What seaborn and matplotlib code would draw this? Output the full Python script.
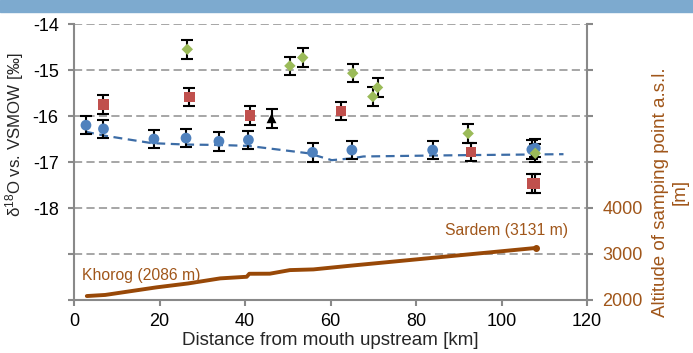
import numpy as np
import pandas as pd
import matplotlib
matplotlib.use("Agg")
import matplotlib.pyplot as plt
import seaborn as sns
from matplotlib.patches import Rectangle

# ---------------- data ----------------
# blue circles, with dashed trend
blue_km = [2.8, 6.9, 18.7, 26.2, 33.9, 40.8, 55.8, 65.0, 83.9, 107.1, 107.9]
blue_d18o = [-16.20, -16.28, -16.50, -16.48, -16.55, -16.52, -16.79, -16.74, -16.74, -16.73, -16.70]

# red squares
red_km = [6.9, 27.0, 41.2, 62.4, 92.8, 107.2, 107.9]
red_d18o = [-15.75, -15.59, -15.99, -15.89, -16.78, -17.47, -17.47]

# green diamonds
green_km = [26.5, 50.5, 53.5, 65.2, 69.9, 71.0, 92.2, 107.9]
green_d18o = [-14.55, -14.91, -14.73, -15.07, -15.58, -15.38, -16.38, -16.81]

# black triangle
tri_km = [46.2]
tri_d18o = [-16.05]

err = 0.2

# dashed trend line
trend_km = [2.6, 7.3, 18.2, 26.0, 33.8, 40.8, 54.8, 60.3, 65.0, 67.7, 83.3, 92.6, 114.5]
trend_d18o = [-16.34, -16.43, -16.59, -16.62, -16.63, -16.65, -16.81, -16.96, -16.92,
              -16.88, -16.86, -16.85, -16.83]

# altitude profile
alt_km = [3.0, 7.3, 19.3, 26.7, 34.2, 40.4, 41.0, 45.8, 50.5, 56.0, 64.6, 108.0]
alt_m = [2086, 2110, 2275, 2360, 2470, 2505, 2570, 2572, 2650, 2665, 2745, 3131]

left_ticks = [-20, -19, -18, -17, -16, -15, -14]
left_labels = ["", "", "-18", "-17", "-16", "-15", "-14"]
right_ticks = [2000, 3000, 4000, 5000, 6000, 7000, 8000]
right_labels = ["2000", "3000", "4000", "", "", "", ""]
x_ticks = [0, 20, 40, 60, 80, 100, 120]

# ---------------- style ----------------
sns.set_style("white")
plt.rcParams["font.family"] = ["Liberation Sans", "DejaVu Sans"]
plt.rcParams["mathtext.fontset"] = "custom"
plt.rcParams["mathtext.rm"] = "Liberation Sans"
plt.rcParams["mathtext.it"] = "Liberation Sans:italic"

BLUE = "#4F81BD"
RED = "#C0504D"
GREEN = "#9BBB59"
BROWN = "#984807"
TXT_BROWN = "#A0561A"
GRID = "#A6A6A6"
SPINE = "#898989"

fig = plt.figure(figsize=(6.93, 3.53), dpi=100)
ax = fig.add_axes([74 / 693, 1 - 300 / 353, (587 - 74) / 693, (300 - 24) / 353])
fig.patches.append(Rectangle((0, 1 - 12 / 353), 1, 12 / 353, transform=fig.transFigure,
                             color="#7DAACF", zorder=0))

ax.set_xlim(0, 120)
ax.set_ylim(-20, -14)
ax.set_yticks(left_ticks)
ax.set_yticklabels(left_labels)
ax.set_xticks(x_ticks)
ax.set_xticklabels([str(t) for t in x_ticks])

ax.grid(axis="y", color=GRID, linewidth=1.4, linestyle=(0, (4.2, 2.2)))
ax.grid(axis="x", visible=False)
ax.set_axisbelow(True)

# error bars
for xs, ys in [(blue_km, blue_d18o), (red_km, red_d18o), (green_km, green_d18o), (tri_km, tri_d18o)]:
    ax.errorbar(xs, ys, yerr=err, fmt="none", ecolor="black", elinewidth=1.5,
                capsize=4, capthick=1.5, zorder=3)

# trend line
trend = pd.DataFrame({"km": trend_km, "d": trend_d18o})
sns.lineplot(data=trend, x="km", y="d", ax=ax, color="#3C6CA6", linewidth=1.6,
             linestyle=(0, (4, 2.5)), sort=False, estimator=None, zorder=2)

# markers
sns.scatterplot(x=blue_km, y=blue_d18o, ax=ax, color=BLUE, marker="o", s=60,
                edgecolor="none", zorder=4)
sns.scatterplot(x=red_km, y=red_d18o, ax=ax, color=RED, marker="s", s=55,
                edgecolor="none", zorder=4)
sns.scatterplot(x=green_km, y=green_d18o, ax=ax, color=GREEN, marker="D", s=34,
                edgecolor="none", zorder=4)
sns.scatterplot(x=tri_km, y=tri_d18o, ax=ax, color="black", marker="^", s=50,
                edgecolor="none", zorder=4)

ax.set_xlabel("Distance from mouth upstream [km]", fontsize=13.5, labelpad=2)
ax.set_ylabel(r"$\mathregular{\delta^{18}}$O vs. VSMOW [‰]", fontsize=12.2)
ax.yaxis.set_label_coords(-0.094, 0.60)

for side in ["top", "right"]:
    ax.spines[side].set_visible(False)
for side in ["left", "bottom"]:
    ax.spines[side].set_color(SPINE)
    ax.spines[side].set_linewidth(1.5)
ax.tick_params(axis="both", which="major", direction="out", length=4, width=1.5,
               color=SPINE, labelsize=13, labelcolor="black")
ax.tick_params(axis="y", left=True, pad=7)
ax.tick_params(axis="x", bottom=True, pad=5)

# altitude axis
ax2 = ax.twinx()
alt = pd.DataFrame({"km": alt_km, "m": alt_m})
sns.lineplot(data=alt, x="km", y="m", ax=ax2, color=BROWN, linewidth=2.8,
             sort=False, estimator=None)
ax2.plot([alt_km[-1]], [alt_m[-1]], marker="o", markersize=4, color=BROWN)
ax2.set_ylim(2000, 8000)
ax2.set_yticks(right_ticks)
ax2.set_yticklabels(right_labels)
ax2.set_xlim(0, 120)
ax2.text(1.8, 2522, "Khorog (2086 m)", color=TXT_BROWN, fontsize=11.3, ha="left", va="center")
ax2.text(115.5, 3500, "Sardem (3131 m)", color=TXT_BROWN, fontsize=11.3, ha="right", va="center")
ax2.set_ylabel("Altitude of samping point a.s.l.\n[m]", color=TXT_BROWN, fontsize=13.5)
ax2.yaxis.set_label_coords(1.127, 0.392)
for side in ["top", "left", "bottom"]:
    ax2.spines[side].set_visible(False)
ax2.spines["right"].set_color(SPINE)
ax2.spines["right"].set_linewidth(1.5)
ax2.tick_params(axis="y", right=True, direction="out", length=4, width=1.5, color=SPINE,
                labelsize=13, labelcolor=TXT_BROWN, pad=7)
ax2.grid(False)

fig.savefig("out.png", dpi=100)
